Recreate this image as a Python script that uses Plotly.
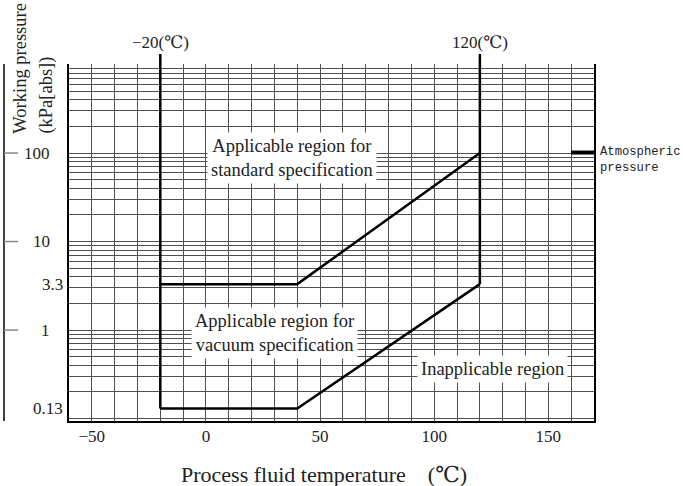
import math
import plotly.graph_objects as go

# ---- data ----
TEMP_LIMITS = [-20, 120]
UPPER_T = [-20, 40, 120]
UPPER_P = [3.3, 3.3, 100]
LOWER_T = [-20, 40, 120]
LOWER_P = [0.13, 0.13, 3.3]
ATM_T = [160, 170]
ATM_P = [101.3, 101.3]
X_TICK_LABELS = {-50: "\u221250", 0: "0", 50: "50", 100: "100", 150: "150"}
Y_TICK_MAJOR = [100, 10, 1]
Y_TICK_EXTRA = [3.3, 0.13]

X_RANGE = [-60, 170]
Y_RANGE = [-1.028, 3.006]
YTOP = 10 ** Y_RANGE[1]

SERIF = "Liberation Serif, DejaVu Serif, serif"
MONO = "Liberation Mono, DejaVu Sans Mono, monospace"
TXT = "#222222"
GRID = "#505050"

fig = go.Figure()

line_style = dict(color="black", width=2.5)
fig.add_trace(go.Scatter(x=UPPER_T, y=UPPER_P, mode="lines", line=line_style,
                         showlegend=False, hoverinfo="skip"))
fig.add_trace(go.Scatter(x=LOWER_T, y=LOWER_P, mode="lines", line=line_style,
                         showlegend=False, hoverinfo="skip"))
fig.add_trace(go.Scatter(x=[TEMP_LIMITS[0], TEMP_LIMITS[0]], y=[LOWER_P[0], YTOP], mode="lines",
                         line=line_style, showlegend=False, hoverinfo="skip"))
fig.add_trace(go.Scatter(x=[TEMP_LIMITS[1], TEMP_LIMITS[1]], y=[UPPER_P[0], YTOP], mode="lines",
                         line=line_style, showlegend=False, hoverinfo="skip"))
fig.add_trace(go.Scatter(x=ATM_T, y=ATM_P, mode="lines",
                         line=dict(color="black", width=4), showlegend=False, hoverinfo="skip"))

x_grid = list(range(X_RANGE[0], X_RANGE[1] + 1, 10))
y_grid = [n * 10 ** k for k in range(-1, 3) for n in range(1, 10)] + [1000]

fig.update_xaxes(range=X_RANGE, tickvals=x_grid,
                 ticktext=[X_TICK_LABELS.get(v, "") for v in x_grid],
                 showgrid=True, gridcolor=GRID, gridwidth=1, zeroline=False,
                 showline=True, linecolor="black", linewidth=1.5, mirror=False,
                 ticks="", ticklabelstandoff=-1,
                 tickfont=dict(family=SERIF, size=17, color=TXT))
fig.update_yaxes(type="log", range=Y_RANGE, tickvals=y_grid, showticklabels=False,
                 showgrid=True, gridcolor=GRID, gridwidth=1, zeroline=False,
                 showline=True, linecolor="black", linewidth=1.5, mirror=True, ticks="")

for t in TEMP_LIMITS:
    fig.add_shape(type="line", xref="x", yref="paper", x0=t, x1=t, y0=1.0, y1=1.028,
                  line=dict(color="black", width=2.5))
    fig.add_annotation(x=t, y=1.059, xref="x", yref="paper",
                       text=f"{t:g}(℃)".replace("-", "\u2212"),
                       showarrow=False, font=dict(family=SERIF, size=17, color=TXT),
                       xanchor="center", yanchor="middle")

fig.add_shape(type="line", xref="paper", yref="paper", x0=-0.1238, x1=-0.1238, y0=0, y1=1,
              line=dict(color="black", width=1.5))
for v in Y_TICK_MAJOR:
    fig.add_shape(type="line", xref="paper", yref="y", x0=-0.1238, x1=-0.0971, y0=v, y1=v,
                  line=dict(color="#888888", width=1.5))
    fig.add_annotation(x=-0.0324, y=math.log10(v), xref="paper", yref="y",
                       text=f"{v:g}", showarrow=False, xanchor="right", yanchor="middle",
                       font=dict(family=SERIF, size=17, color=TXT))
for v in Y_TICK_EXTRA:
    fig.add_annotation(x=-0.0076, y=math.log10(v), xref="paper", yref="y",
                       text=f"{v:g}", showarrow=False, xanchor="right", yanchor="middle",
                       font=dict(family=SERIF, size=17, color=TXT))

fig.add_annotation(x=-0.0933, y=0.798, xref="paper", yref="paper", text="Working pressure",
                   textangle=-90, showarrow=False, xanchor="center", yanchor="bottom",
                   font=dict(family=SERIF, size=18.5, color=TXT))
fig.add_annotation(x=-0.0419, y=0.798, xref="paper", yref="paper", text="(kPa[abs])",
                   textangle=-90, showarrow=False, xanchor="center", yanchor="bottom",
                   font=dict(family=SERIF, size=18.5, color=TXT))

fig.add_annotation(x=0.486, y=-0.151, xref="paper", yref="paper",
                   text="Process fluid temperature\u3000(℃)", showarrow=False,
                   xanchor="center", yanchor="middle", font=dict(family=SERIF, size=22, color=TXT))

region_font = dict(family=SERIF, size=18.5, color=TXT)
fig.add_annotation(x=37.7, y=1.944, xref="x", yref="y",
                   text="Applicable region for<br>standard specification", showarrow=False,
                   bgcolor="white", borderpad=3, font=region_font)
fig.add_annotation(x=30.2, y=-0.034, xref="x", yref="y",
                   text="Applicable region for<br>vacuum specification", showarrow=False,
                   bgcolor="white", borderpad=3, font=region_font)
fig.add_annotation(x=125.7, y=-0.444, xref="x", yref="y",
                   text="Inapplicable region", showarrow=False,
                   bgcolor="white", borderpad=3, font=region_font)

fig.add_annotation(x=1.0095, y=0.730, xref="paper", yref="paper",
                   text="Atmospheric<br>pressure", showarrow=False, align="left",
                   xanchor="left", yanchor="middle", borderpad=0,
                   font=dict(family=MONO, size=12.2, color=TXT))

fig.update_layout(width=683, height=486, margin=dict(l=69, r=89, t=64, b=65),
                  plot_bgcolor="white", paper_bgcolor="white", showlegend=False)

# remove the browser's default 8px page margin so the figure fills the window
fig.write_html("out.html", config={"displayModeBar": False},
               post_script="document.body.style.margin='0';")
